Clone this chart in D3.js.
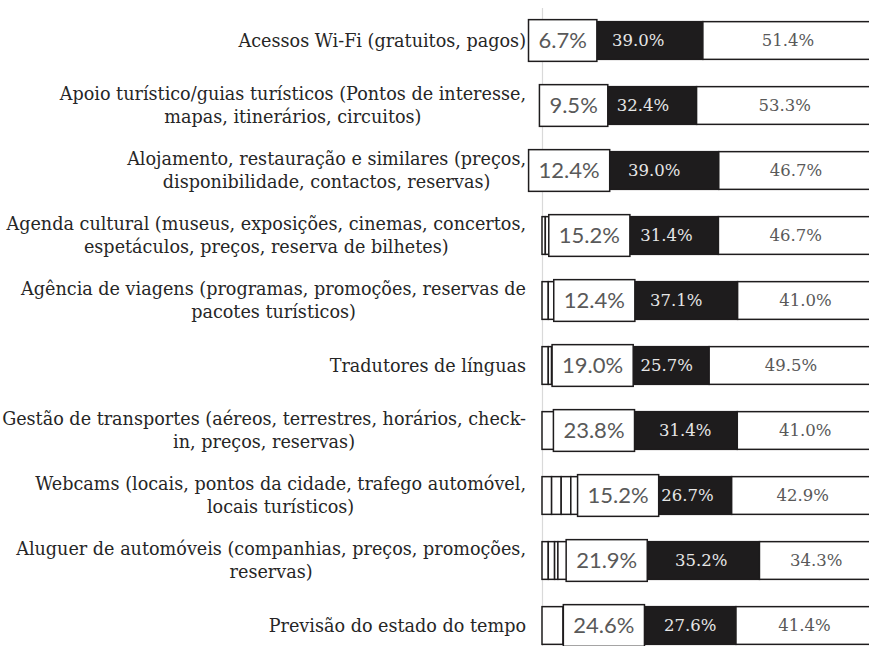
<!DOCTYPE html>
<html>
<head>
<meta charset="utf-8">
<script src="https://cdn.jsdelivr.net/npm/d3@7"></script>
<style>
  html, body { margin: 0; padding: 0; background: #fff; }
  svg { display: block; }
</style>
</head>
<body>
<svg id="chart"></svg>
<script>
// categories (one entry per line of the wrapped label)
const categories = [
    ["Acessos Wi-Fi (gratuitos, pagos)"],
    ["Apoio turístico/guias turísticos (Pontos de interesse,", "mapas, itinerários, circuitos)"],
    ["Alojamento, restauração e similares (preços,", "disponibilidade, contactos, reservas)"],
    ["Agenda cultural (museus, exposições, cinemas, concertos,", "espetáculos, preços, reserva de bilhetes)"],
    ["Agência de viagens (programas, promoções, reservas de", "pacotes turísticos)"],
    ["Tradutores de línguas"],
    ["Gestão de transportes (aéreos, terrestres, horários, check-", "in, preços, reservas)"],
    ["Webcams (locais, pontos da cidade, trafego automóvel,", "locais turísticos)"],
    ["Aluguer de automóveis (companhias, preços, promoções,", "reservas)"],
    ["Previsão do estado do tempo"]
];

// small unlabelled segments at the start of each bar (%)
const small1 = [0, 0, 0, 0, 0, 0, 0, 2.9, 1.9, 0];
const small2 = [0, 1.0, 0, 1.0, 1.9, 1.9, 0, 2.9, 1.9, 0];
const small3 = [1.0, 1.9, 1.0, 1.9, 2.9, 1.0, 0, 2.9, 1.0, 0];
const small4 = [1.9, 1.9, 1.0, 3.8, 4.8, 2.9, 3.8, 6.7, 3.8, 6.4];
// labelled segments (%)
const midValues = [6.7, 9.5, 12.4, 15.2, 12.4, 19.0, 23.8, 15.2, 21.9, 24.6];
const darkValues = [39.0, 32.4, 39.0, 31.4, 37.1, 25.7, 31.4, 26.7, 35.2, 27.6];
const highValues = [51.4, 53.3, 46.7, 46.7, 41.0, 49.5, 41.0, 42.9, 34.3, 41.4];

const width = 869;
const height = 646;
const axisX = 542;

const svg = d3.select('svg#chart')
    .attr('width', width)
    .attr('height', height);

const keys = ["s1", "s2", "s3", "s4", "mid", "dark", "high"];
const table = categories.map((c, i) => ({
    idx: i,
    s1: small1[i], s2: small2[i], s3: small3[i], s4: small4[i],
    mid: midValues[i], dark: darkValues[i], high: highValues[i]
}));

const series = d3.stack().keys(keys)(table);

const x = d3.scaleLinear().domain([0, 100]).range([axisX, axisX + 331]);
const y = d3.scaleBand()
    .domain(d3.range(categories.length))
    .range([8, 658])
    .paddingInner(0.42)
    .paddingOuter(0.21);

const fmt = v => d3.format(".1f")(v) + "%";

// axis line
svg.append('line')
    .attr('x1', x(0) + 0.5).attr('x2', x(0) + 0.5)
    .attr('y1', 8).attr('y2', height)
    .attr('stroke', '#d9d9d9')
    .attr('stroke-width', 1.2);

// bar segments
const groups = svg.selectAll('g.series')
    .data(series)
    .enter().append('g')
    .classed('series', true)
    .attr('fill', d => d.key == "dark" ? "#1e1c1d" : "#ffffff");

groups.selectAll('rect')
    .data(d => d.filter(p => p[1] - p[0] > 0))
    .enter().append('rect')
    .attr('x', d => x(d[0]))
    .attr('y', d => y(d.data.idx))
    .attr('width', d => x(d[1]) - x(d[0]))
    .attr('height', y.bandwidth())
    .attr('stroke', '#1e1c1d')
    .attr('stroke-width', 1.5);

// boxed labels for the first labelled segment
const midSeries = series.find(s => s.key == "mid");
const boxes = svg.selectAll('g.box')
    .data(midSeries)
    .enter().append('g')
    .classed('box', true);

boxes.append('rect')
    .attr('fill', '#fff')
    .attr('stroke', '#1e1c1d')
    .attr('stroke-width', 1.5);

boxes.append('text')
    .attr('x', d => (x(d[0]) + x(d[1])) / 2)
    .attr('y', d => y(d.data.idx) + y.bandwidth() / 2)
    .attr('dy', '0.35em')
    .attr('text-anchor', 'middle')
    .attr('font-family', 'Lato, sans-serif')
    .attr('font-size', 22)
    .attr('fill', '#595959')
    .text(d => fmt(d.data.mid));

boxes.each(function (d) {
    const g = d3.select(this);
    const w = g.select('text').node().getComputedTextLength() + 20;
    const cx = (x(d[0]) + x(d[1])) / 2;
    g.select('rect')
        .attr('x', cx - w / 2)
        .attr('y', y(d.data.idx) - 2)
        .attr('width', w)
        .attr('height', y.bandwidth() + 4);
});

// labels inside the dark and the last segment
["dark", "high"].forEach(k => {
    const s = series.find(q => q.key == k);
    svg.selectAll('text.lbl-' + k)
        .data(s)
        .enter().append('text')
        .attr('class', 'lbl-' + k)
        .attr('x', d => (x(d[0]) + x(d[1])) / 2)
        .attr('y', d => y(d.data.idx) + y.bandwidth() / 2)
        .attr('dy', '0.35em')
        .attr('text-anchor', 'middle')
        .attr('font-family', '"DejaVu Serif", serif')
        .attr('font-size', 16.5)
        .attr('fill', k == "dark" ? "#e6e6e6" : "#595959")
        .text(d => fmt(d.data[k]));
});

// category labels, lines centred on each other, block right aligned
const labelRight = 526;
const lineH = 23;
categories.forEach((lines, i) => {
    const g = svg.append('g').attr('class', 'cat');
    const cy = y(i) + y.bandwidth() / 2;
    const texts = lines.map((t, j) => g.append('text')
        .attr('y', cy + (j - (lines.length - 1) / 2) * lineH)
        .attr('dy', '0.35em')
        .attr('text-anchor', 'middle')
        .attr('font-family', '"DejaVu Serif", serif')
        .attr('font-size', 17.6)
        .attr('fill', '#262626')
        .text(t));
    const maxW = d3.max(texts, t => t.node().getComputedTextLength());
    texts.forEach(t => t.attr('x', labelRight - maxW / 2));
});
</script>
</body>
</html>
